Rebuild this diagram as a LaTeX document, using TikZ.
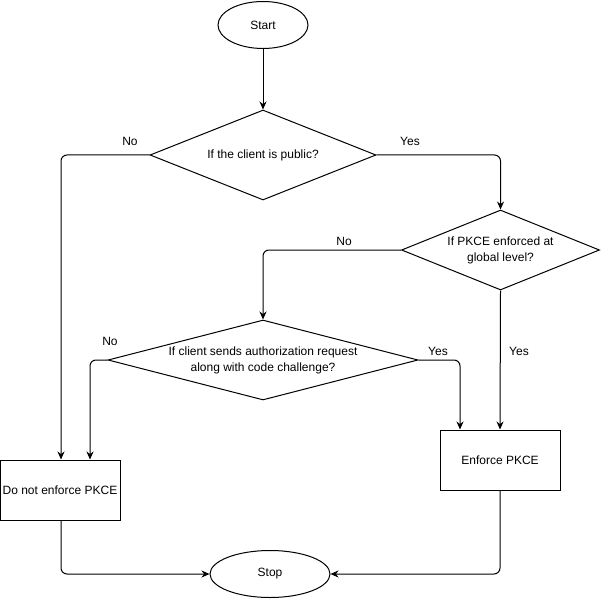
\documentclass[tikz,border=0pt]{standalone}
\usepackage{fontspec}
\setmainfont{Liberation Sans}
\usetikzlibrary{shapes.geometric,arrows.meta,calc}
\begin{document}
\begin{tikzpicture}[x=1pt,y=-1pt,
  font=\fontsize{12}{16}\selectfont,
  every node/.style={inner sep=0pt},
  term/.style={ellipse,draw,line width=1pt,minimum width=#1,minimum height=47pt},
  decision/.style={diamond,draw,line width=1pt,inner sep=0pt},
  procbox/.style={rectangle,draw,line width=1pt,minimum width=120pt,minimum height=60pt},
  lbl/.style={font=\fontsize{12}{14}\selectfont},
  conn/.style={line width=1pt,rounded corners=6pt,-{Stealth[length=8pt,width=7pt]}}]
\useasboundingbox (0,0) rectangle (601,601);
\node[term=90pt] (start) at (263,25) {Start};
\node[decision,minimum width=226pt,minimum height=90pt,label={center:If the client is public?}] (d1) at (263,155) {};
\node[decision,minimum width=198pt,minimum height=80pt,label={[align=center]center:If PKCE enforced at\\global level?}] (d2) at (500.5,250) {};
\node[decision,minimum width=310pt,minimum height=80pt,label={[align=center]center:If client sends authorization request\\along with code challenge?}] (d3) at (263,360) {};
\node[procbox] (b1) at (60,490) {Do not enforce PKCE};
\node[procbox] (b2) at (500,460) {Enforce PKCE};
\node[term=120pt] (stop) at (270,574) {Stop};
\draw[conn] (start) -- (d1.north);
\draw[conn] (d1.west) -| ([xshift=1pt]b1.north);
\draw[conn] (d1.east) -| (d2.north);
\draw[conn] (d2.west) -| (d3.north);
\draw[conn] (d2.south) -- (b2.north);
\draw[conn] (d3.west) -| ([xshift=30pt]b1.north);
\draw[conn] (d3.east) -| ([xshift=-40pt]b2.north);
\draw[conn] ([xshift=1pt]b1.south) |- (stop.west);
\draw[conn] (b2.south) |- (stop.east);
\node[lbl] (l1) at (130,141) {No};
\node[lbl] (l2) at (410,141) {Yes};
\node[lbl] (l3) at (344,241) {No};
\node[lbl] (l4) at (519,351) {Yes};
\node[lbl] (l5) at (110,341) {No};
\node[lbl] (l6) at (438,351) {Yes};
\end{tikzpicture}
\end{document}
